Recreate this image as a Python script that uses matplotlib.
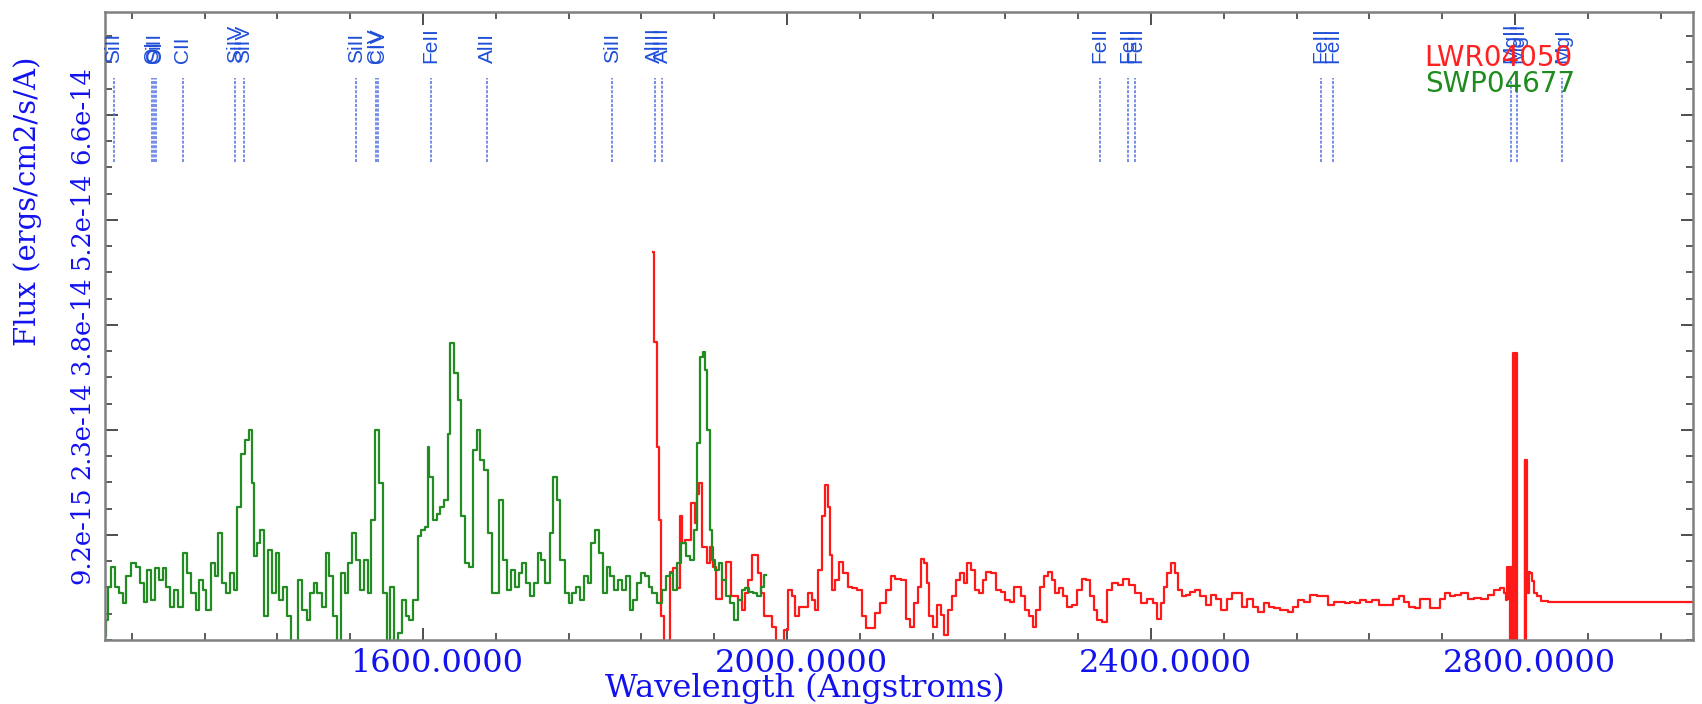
import numpy as np
import matplotlib
matplotlib.use("Agg")
import matplotlib.pyplot as plt
from matplotlib.ticker import FixedLocator, MultipleLocator, FormatStrFormatter
from matplotlib.transforms import ScaledTranslation

plt.rcParams["font.family"] = ["DejaVu Serif"]

# SWP04677 (green), wavelength in Angstrom, flux in 1e-14 ergs/cm2/s/A
swp_wave = [1251, 1253, 1255, 1259, 1264, 1268, 1272, 1276, 1282, 1287, 1291, 1295, 1299,
            1303, 1308, 1312, 1316, 1320, 1324, 1329, 1333, 1339, 1343, 1348, 1352, 1356,
            1360, 1364, 1369, 1373, 1377, 1381, 1385, 1390, 1394, 1398, 1402, 1406, 1411,
            1413, 1415, 1419, 1423, 1428, 1432, 1436, 1440, 1444, 1449, 1453, 1457, 1461,
            1465, 1470, 1474, 1478, 1482, 1486, 1491, 1495, 1499, 1503, 1507, 1512, 1516,
            1520, 1524, 1528, 1533, 1537, 1541, 1545, 1549, 1554, 1558, 1562, 1566, 1570,
            1575, 1579, 1583, 1587, 1592, 1596, 1600, 1604, 1606, 1608, 1613, 1617, 1621,
            1625, 1629, 1631, 1636, 1640, 1644, 1648, 1652, 1657, 1661, 1665, 1669, 1674,
            1678, 1682, 1686, 1690, 1695, 1699, 1703, 1707, 1711, 1716, 1720, 1724, 1728,
            1732, 1737, 1741, 1745, 1749, 1753, 1758, 1762, 1766, 1770, 1774, 1779, 1783,
            1787, 1791, 1796, 1800, 1804, 1808, 1812, 1817, 1821, 1825, 1829, 1833, 1838,
            1842, 1846, 1850, 1854, 1861, 1865, 1869, 1873, 1877, 1882, 1886, 1891, 1895,
            1900, 1903, 1906, 1909, 1911, 1914, 1917, 1919, 1923, 1927, 1931, 1935, 1940,
            1944, 1948, 1952, 1956, 1961, 1965, 1969, 1973, 1977]
swp_flux = [-0.45, -0.23, 0.22, 0.49, 0.22, 0.13, 0.00, 0.36, 0.54, 0.49, 0.27, 0.02, 0.45,
            0.04, 0.47, 0.31, 0.47, 0.22, -0.05, 0.18, -0.05, 0.67, 0.40, 0.13, -0.09, 0.31,
            0.18, -0.09, 0.54, 0.36, 0.94, 0.27, 0.13, 0.40, 0.18, 1.30, 2.02, 2.20, 2.34,
            1.62, 0.63, 0.81, 0.99, -0.18, 0.72, 0.13, 0.67, 0.04, 0.22, -0.18, -0.60, -0.60,
            0.31, -0.09, -0.23, 0.13, 0.27, 0.13, -0.05, 0.67, 0.36, -0.18, -0.60, 0.40, 0.13,
            0.54, 0.94, 0.58, 0.18, 0.58, 0.13, 1.12, 2.34, 1.62, 0.13, -0.60, 0.22, -0.60,
            -0.41, 0.04, -0.18, -0.23, 0.04, 0.90, 0.99, 1.03, 2.11, 1.71, 1.12, 1.21, 1.30,
            1.39, 2.29, 3.51, 3.11, 2.75, 1.17, 0.54, 0.49, 2.07, 2.34, 1.93, 1.80, 0.94,
            0.13, 0.13, 1.39, 0.58, 0.18, 0.45, 0.22, 0.40, 0.54, 0.27, 0.09, 0.27, 0.67,
            0.58, 0.27, 0.94, 1.71, 1.39, 0.58, 0.13, 0.00, 0.13, 0.22, 0.04, 0.36, 0.27,
            0.81, 0.99, 0.67, 0.13, 0.49, 0.36, 0.18, 0.31, 0.18, 0.36, -0.09, 0.04, 0.27,
            0.40, 0.36, 0.22, 0.13, 0.00, 0.18, 0.36, 0.40, 0.18, 0.54, 0.81, 0.63, 0.58,
            0.99, 2.16, 3.33, 3.40, 3.15, 2.34, 0.99, 0.58, 0.45, 0.54, 0.31, 0.09, 0.00,
            -0.23, 0.04, 0.18, 0.20, 0.15, 0.13, 0.09, 0.22, 0.38]

# LWR04050 (red)
lwr_wave = [1852.5, 1855.5, 1858.4, 1861, 1863, 1866, 1869.5, 1873, 1877, 1881, 1884, 1886,
            1889, 1893, 1897, 1900, 1902, 1905, 1908, 1911, 1913.5, 1916.5, 1920, 1923, 1927,
            1931, 1934, 1937.5, 1940, 1944, 1948, 1952, 1956, 1959, 1963, 1967, 1970, 1973,
            1976, 1982, 1986, 1989, 1994, 2000, 2003, 2007, 2011, 2015, 2022, 2025, 2029,
            2033, 2036, 2040.5, 2043, 2046, 2048, 2051, 2055, 2059, 2064, 2069, 2074, 2080,
            2084, 2089, 2095, 2099, 2106, 2112, 2116, 2122, 2129, 2133, 2137, 2141.5, 2146,
            2149, 2152, 2155, 2158, 2162.5, 2167, 2171, 2175, 2179, 2183.5, 2188, 2192, 2196,
            2200, 2204.5, 2209, 2213, 2217, 2221, 2228, 2232, 2238, 2242, 2247, 2251, 2255,
            2259, 2263, 2268, 2272, 2276, 2280, 2284.5, 2289, 2293, 2297, 2301, 2305.5, 2310,
            2316, 2322, 2326.5, 2331, 2335, 2339, 2343, 2350, 2354, 2360, 2366.5, 2373, 2379,
            2385, 2392, 2399, 2405, 2408.6, 2412.4, 2416, 2420, 2424, 2428, 2432, 2436, 2441,
            2445, 2451, 2457, 2463, 2468.5, 2474, 2480, 2486, 2492, 2497.5, 2503, 2509, 2515,
            2521, 2526.5, 2532, 2538, 2546, 2554, 2559, 2565, 2571, 2579, 2585, 2592, 2598,
            2604, 2610, 2615.5, 2621, 2627, 2633, 2639, 2646.5, 2654, 2662, 2670, 2675.5,
            2681, 2687, 2693, 2699, 2704.5, 2708, 2716, 2720, 2726, 2731.5, 2737, 2745, 2751,
            2758.6, 2766, 2774, 2780, 2786, 2790, 2791, 2792, 2793, 2794, 2795, 2796, 2797,
            2798, 2799, 2800, 2801, 2802, 2803, 2806, 2810, 2811, 2812, 2813, 2814, 2815,
            2816, 2818, 2820, 2822, 2826, 2832, 2840, 2850, 2996]
lwr_flux = [4.75, 3.53, 2.11, 1.12, -0.18, -0.60, -0.60, 0.42, 0.47, 0.20, 1.17, 0.81,
            0.85, 0.85, 1.35, 1.08, 1.48, 1.62, 0.76, 0.76, 0.54, 0.76, 0.49, 0.06, 0.06,
            0.31, 0.56, 0.56, 0.09, 0.09, 0.04, -0.09, 0.13, 0.31, 0.65, 0.65, 0.40, 0.13,
            -0.18, -0.18, -0.32, -0.60, -0.60, -0.36, 0.18, 0.09, -0.18, -0.05, -0.05, 0.13, 0.04,
            -0.09, 0.45, 1.17, 1.59, 1.30, 0.65, 0.18, 0.31, 0.56, 0.40, 0.22, 0.20, 0.18,
            -0.18, -0.34, -0.34, -0.14, 0.00, 0.18, 0.36, 0.33, 0.31, -0.21, -0.32, 0.00, 0.22,
            0.60, 0.54, 0.27, -0.18, -0.32, -0.03, -0.16, -0.43, -0.09, 0.09, 0.31, 0.40, 0.27,
            0.54, 0.45, 0.18, 0.13, 0.31, 0.42, 0.40, 0.18, 0.15, 0.04, 0.02, 0.22, 0.22,
            0.09, -0.09, -0.18, -0.32, -0.09, 0.22, 0.36, 0.42, 0.31, 0.13, 0.20, 0.09, -0.05,
            -0.03, 0.18, 0.33, 0.31, 0.09, -0.09, -0.23, -0.25, 0.18, 0.27, 0.24, 0.33, 0.24,
            0.13, 0.00, 0.06, 0.00, -0.21, 0.00, 0.22, 0.40, 0.54, 0.40, 0.18, 0.09, 0.11,
            0.15, 0.18, 0.09, -0.03, 0.11, 0.06, -0.09, 0.06, 0.13, 0.13, -0.05, 0.06, -0.05,
            -0.12, 0.00, -0.05, -0.07, -0.09, -0.12, -0.05, 0.04, 0.02, 0.11, 0.09, 0.09, -0.03,
            0.02, 0.02, 0.00, 0.02, 0.00, 0.04, 0.02, 0.04, -0.03, -0.03, 0.06, 0.09,
            0.02, -0.05, -0.07, 0.06, 0.06, -0.07, -0.07, 0.06, 0.14, 0.09, 0.11, 0.13, 0.06,
            0.07, 0.06, 0.11, 0.18, 0.20, 0.13, 0.04, 0.49, 0.05, 0.49, -0.60, 0.49, -0.60,
            3.38, -0.60, 3.38, -0.60, 3.38, -0.60, -0.60, -0.60, 1.93, -0.60, 1.93, 0.42, 0.13,
            0.42, 0.40, 0.30, 0.13, 0.09, 0.03, 0.01, 0.01, 0.01]

# identified lines
line_wave = [1260.4, 1302.2, 1304.4, 1306.0, 1335.7, 1393.8, 1402.8, 1526.7, 1548.2, 1550.8,
             1608.5, 1670.8, 1808.0, 1854.7, 1862.8, 2344.2, 2374.5, 2382.8, 2586.6, 2600.2,
             2795.5, 2802.7, 2852.1]
line_name = ["SiII", "OI", "SiII", "OI", "CII", "SiIV", "SiIV", "SiII", "CIV", "CIV",
             "FeII", "AlII", "SiII", "AlIII", "AlIII", "FeII", "FeII", "FeII", "FeII", "FeII",
             "MgII", "MgII", "MgI"]

xtick_vals = [1600, 2000, 2400, 2800]
ytick_vals = [0.92e-14, 2.34e-14, 3.76e-14, 5.18e-14, 6.60e-14]

blue = "#1212ee"

fig = plt.figure(figsize=(17.02, 7.04), dpi=100)
ax = fig.add_axes([105 / 1702, 64 / 704, 1588 / 1702, 628 / 704])

ax.plot(lwr_wave, np.array(lwr_flux) * 1e-14, color="#ff1a1a", lw=1.6, drawstyle="steps-mid")
ax.plot(swp_wave, np.array(swp_flux) * 1e-14, color="#228b22", lw=1.6, drawstyle="steps-mid")

# line markers at the top
xtr = ax.get_xaxis_transform()
for w, name in zip(line_wave, line_name):
    ax.plot([w, w], [0.761, 0.895], transform=xtr, color="#4f70e0", lw=1.1,
            ls=(0, (2, 1)))
    ax.text(w, 0.918, name, transform=xtr, rotation=90, ha="center", va="bottom",
            color="#1f4fd8", fontsize=15, family="Liberation Sans")

# legend-like labels
ax.text(0.831, 0.927, "LWR04050", transform=ax.transAxes, color="#ff2020",
        fontsize=20, family="DejaVu Sans", va="center", ha="left")
ax.text(0.831, 0.885, "SWP04677", transform=ax.transAxes, color="#1f8c1f",
        fontsize=20, family="DejaVu Sans", va="center", ha="left")

ax.set_xlim(1250.5, 2995.6)
ax.set_ylim(-0.5e-14, 7.99e-14)

ax.xaxis.set_major_locator(FixedLocator(xtick_vals))
ax.xaxis.set_minor_locator(MultipleLocator(80))
ax.xaxis.set_major_formatter(FormatStrFormatter("%.4f"))
ax.yaxis.set_major_locator(FixedLocator(ytick_vals))
ax.yaxis.set_minor_locator(MultipleLocator(0.355e-14, offset=-0.5e-14))
ax.yaxis.set_major_formatter(FormatStrFormatter("%.1e"))

ax.tick_params(which="both", direction="in", top=True, right=True, color="#404040")
ax.tick_params(which="major", length=9, width=1.3)
ax.tick_params(which="minor", length=5, width=1.2)
ax.tick_params(axis="x", labelcolor=blue, labelsize=23, pad=6)
ax.tick_params(axis="y", labelcolor=blue, labelsize=18.5, pad=8, labelrotation=90)

for lab in ax.get_yticklabels():
    lab.set_va("center")
for lab in ax.get_xticklabels():
    lab.set_transform(lab.get_transform() + ScaledTranslation(0.14, 0, fig.dpi_scale_trans))

for s in ax.spines.values():
    s.set_color("#808080")
    s.set_linewidth(1.8)

fig.text(28 / 1702, 1 - 201 / 704, "Flux (ergs/cm2/s/A)", rotation=90, ha="center",
         va="center", color=blue, fontsize=21)
fig.text(805 / 1702, 1 - 688 / 704, "Wavelength (Angstroms)", ha="center", va="center",
         color=blue, fontsize=23)

fig.savefig("out.png", dpi=100)
